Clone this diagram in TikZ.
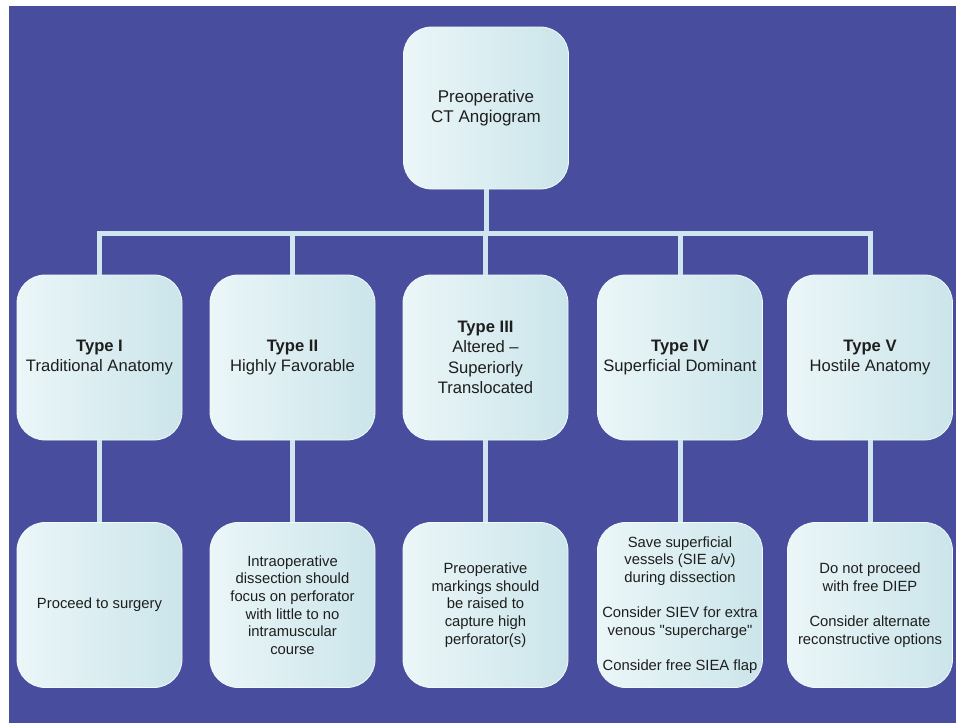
\documentclass[tikz,border=0pt]{standalone}
\usepackage{fontspec}
\setmainfont{Liberation Sans}
\definecolor{bgblue}{HTML}{484E9D}
\definecolor{boxL}{HTML}{EBF6F8}
\definecolor{boxR}{HTML}{CBE5EA}
\definecolor{linkcol}{HTML}{CFE6F0}
\definecolor{boxedge}{HTML}{F2FAFC}
\definecolor{txt}{HTML}{1E1E1E}
\begin{document}
\begin{tikzpicture}[x=1pt,y=-1pt,
  box/.style={rounded corners=28pt, minimum width=165pt, minimum height=165pt,
    inner sep=0pt, left color=boxL, right color=boxR, draw=boxedge,
    line width=0.8pt, align=center, text=txt},
  toptext/.style={font=\fontsize{17}{20.5}\selectfont},
  midtext/.style={font=\fontsize{16.6}{20.5}\selectfont},
  lowtext/.style={font=\fontsize{14.8}{17.6}\selectfont},
  link/.style={draw=linkcol, line width=5pt}]
\useasboundingbox (0,0) rectangle (956,723);
\fill[white] (0,0) rectangle (956,723);
\fill[bgblue] (9,6) rectangle (956,723);
% nodes
\node[box, toptext, minimum height=162pt] (top) at (486,108) {Preoperative\\CT Angiogram};
\node[box, midtext] (t1) at (99.5,357.5) {\textbf{Type I}\\Traditional Anatomy};
\node[box, midtext] (t2) at (292.5,357.5) {\textbf{Type II}\\Highly Favorable};
\node[box, midtext] (t3) at (485.5,357.5) {\textbf{Type III}\\Altered --\\Superiorly\\Translocated};
\node[box, midtext] (t4) at (680,357.5) {\textbf{Type IV}\\Superficial Dominant};
\node[box, midtext] (t5) at (870,357.5) {\textbf{Type V}\\Hostile Anatomy};
\node[box, lowtext] (b1) at (99.5,605) {Proceed to surgery};
\node[box, lowtext] (b2) at (292.5,605) {Intraoperative\\dissection should\\focus on perforator\\with little to no\\intramuscular\\course};
\node[box, lowtext] (b3) at (485.5,605) {Preoperative\\markings should\\be raised to\\capture high\\perforator(s)};
\node[box, lowtext] (b4) at (680,605) {Save superficial\\vessels (SIE a/v)\\during dissection\\[17.6pt]Consider SIEV for extra\\venous \textquotedbl supercharge\textquotedbl\\[17.6pt]Consider free SIEA flap};
\node[box, lowtext] (b5) at (870,605) {Do not proceed\\with free DIEP\\[17.6pt]Consider alternate\\reconstructive options};
% connectors
\coordinate (bar) at (486,233);
\draw[link] (top.south) -- (bar);
\draw[link] (t1.north) -- (t1.north |- bar) -- (t5.north |- bar) -- (t5.north);
\draw[link] (t2.north) -- (t2.north |- bar);
\draw[link] (t3.north) -- (t3.north |- bar);
\draw[link] (t4.north) -- (t4.north |- bar);
\draw[link] (t1.south) -- (b1.north);
\draw[link] (t2.south) -- (b2.north);
\draw[link] (t3.south) -- (b3.north);
\draw[link] (t4.south) -- (b4.north);
\draw[link] (t5.south) -- (b5.north);
\end{tikzpicture}
\end{document}
